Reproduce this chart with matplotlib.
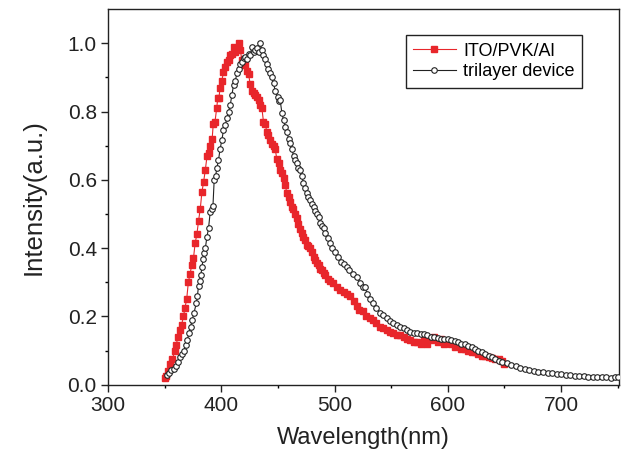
import matplotlib
matplotlib.use("Agg")
from matplotlib import pyplot as plt

plt.rcParams['font.family'] = ['Liberation Sans', 'DejaVu Sans']

# ITO/PVK/Al (red squares)
red_x = [350, 351, 353, 355, 357, 359, 360, 362, 364, 365, 366.7, 368, 369.5, 371, 372.5,
         374, 375.5, 377, 378.5, 380, 381.5, 383, 384.5, 386, 387.5, 389, 390.5, 392, 393,
         394.5, 396, 397, 398, 399, 400.5, 402, 403.5, 405, 406.5, 408, 409.5, 411, 412.5,
         414, 415.3, 416.8, 418.3, 419.7, 421.2, 422.6, 424.1, 425.6, 427.1, 428.6, 430,
         431.5, 433, 434.4, 435.9, 437.3, 438.8, 440.3, 441.7, 443.2, 444.7, 446.2, 447.7,
         449.1, 450.6, 452, 453.6, 455, 456.5, 458, 459.4, 460.9, 462.3, 463.8, 465.3, 466.8,
         468.2, 469.7, 471.2, 472.6, 474.1, 475.6, 477, 478.5, 480, 481.5, 483, 484.5, 486,
         487.4, 488.9, 490.3, 492, 494, 496, 499, 502, 505, 508, 511, 514, 517, 520, 522, 525,
         528, 531, 534, 537, 540, 543, 546, 549, 552, 555, 558, 561, 564, 567, 570, 573, 576,
         579, 582, 585, 588, 591, 594, 597, 600, 603, 606, 609, 612, 615, 618, 621, 624, 627,
         630, 633, 636, 639, 642, 645, 648, 650]
red_y = [0.02, 0.025, 0.04, 0.06, 0.075, 0.1, 0.115, 0.14, 0.16, 0.175, 0.2, 0.225, 0.25, 0.3,
         0.325, 0.35, 0.37, 0.415, 0.44, 0.48, 0.515, 0.565, 0.595, 0.63, 0.67, 0.68, 0.7, 0.72,
         0.765, 0.77, 0.81, 0.84, 0.84, 0.87, 0.89, 0.915, 0.93, 0.945, 0.95, 0.965, 0.97, 0.99,
         0.975, 0.985, 1.0, 0.98, 0.95, 0.955, 0.935, 0.92, 0.91, 0.88, 0.86, 0.855, 0.85,
         0.843, 0.835, 0.82, 0.81, 0.77, 0.765, 0.74, 0.73, 0.717, 0.705, 0.70, 0.69, 0.66,
         0.648, 0.63, 0.62, 0.605, 0.585, 0.56, 0.55, 0.535, 0.52, 0.515, 0.50, 0.487, 0.47,
         0.455, 0.445, 0.433, 0.425, 0.41, 0.405, 0.40, 0.39, 0.375, 0.365, 0.355, 0.35, 0.34,
         0.335, 0.326, 0.32, 0.31, 0.305, 0.297, 0.285, 0.278, 0.272, 0.266, 0.26, 0.245, 0.23,
         0.22, 0.215, 0.2, 0.195, 0.19, 0.18, 0.17, 0.165, 0.16, 0.155, 0.15, 0.145, 0.145,
         0.14, 0.135, 0.13, 0.125, 0.125, 0.12, 0.13, 0.12, 0.13, 0.14, 0.125, 0.135, 0.12,
         0.125, 0.12, 0.11, 0.115, 0.105, 0.105, 0.1, 0.095, 0.095, 0.09, 0.085, 0.085, 0.08,
         0.078, 0.075, 0.075, 0.07, 0.06]

# trilayer device (open circles)
blk_x = [352, 354, 356, 358, 360, 362, 364, 365.5, 367, 368.5, 370, 371.5, 373, 374.5, 376,
         378, 379, 380, 381, 382, 383, 384, 385, 386, 387.4, 388.8, 390.3, 391.5, 392.7, 393.8,
         395, 396.2, 397.6, 399, 400.6, 402, 403.5, 405, 406.5, 408, 409.4, 410.9, 412.4,
         413.9, 415.3, 416.8, 418.3, 419.7, 421.2, 422.6, 424.1, 425.6, 427.1, 428.6, 430,
         431.5, 433, 434.4, 435.9, 437.3, 438.8, 440.3, 441.7, 443.2, 444.7, 446.2, 447.7,
         449.7, 451, 452, 453.6, 455, 456.5, 458, 459.5, 460.9, 462.4, 463.9, 465.3, 466.8,
         468.2, 469.7, 471.2, 472.6, 474.1, 475.6, 477, 478.6, 480, 481.5, 483, 484.5, 486,
         487.4, 488.9, 490.3, 492, 494, 496.2, 498, 500, 503.5, 506, 508, 510.9, 513, 516,
         519.8, 522.7, 525, 527.1, 528.6, 531, 534.4, 537, 540, 543.2, 546, 549, 552, 555, 558,
         561, 564, 567, 570, 573, 576, 579, 582, 585, 588, 591, 594, 597, 600, 603, 606, 609,
         612, 615, 618, 621, 624, 627, 630, 633, 636, 639, 642, 645, 648, 652, 656, 660, 664,
         668, 672, 676, 680, 684, 688, 692, 696, 700, 704, 708, 712, 716, 720, 724, 728, 732,
         736, 740, 744, 748, 750]
blk_y = [0.028, 0.035, 0.042, 0.047, 0.055, 0.067, 0.08, 0.09, 0.10, 0.115, 0.13, 0.15, 0.17,
         0.19, 0.21, 0.238, 0.26, 0.29, 0.305, 0.32, 0.345, 0.367, 0.385, 0.40, 0.433, 0.458,
         0.506, 0.515, 0.523, 0.6, 0.61, 0.635, 0.658, 0.69, 0.717, 0.746, 0.76, 0.78, 0.80,
         0.82, 0.848, 0.878, 0.89, 0.912, 0.925, 0.94, 0.945, 0.956, 0.96, 0.955, 0.97, 0.965,
         0.99, 0.975, 0.98, 0.985, 0.975, 1.0, 0.98, 0.966, 0.955, 0.94, 0.925, 0.912, 0.90,
         0.883, 0.86, 0.843, 0.83, 0.834, 0.795, 0.775, 0.756, 0.74, 0.72, 0.707, 0.69, 0.67,
         0.658, 0.648, 0.635, 0.629, 0.61, 0.59, 0.575, 0.56, 0.55, 0.54, 0.53, 0.52, 0.51,
         0.50, 0.49, 0.475, 0.465, 0.458, 0.445, 0.43, 0.414, 0.40, 0.39, 0.375, 0.36, 0.352,
         0.345, 0.335, 0.325, 0.316, 0.297, 0.285, 0.287, 0.267, 0.25, 0.238, 0.225, 0.21,
         0.204, 0.195, 0.185, 0.18, 0.175, 0.168, 0.165, 0.16, 0.155, 0.152, 0.15, 0.148,
         0.148, 0.145, 0.14, 0.14, 0.138, 0.135, 0.135, 0.133, 0.13, 0.128, 0.125, 0.12,
         0.118, 0.113, 0.11, 0.105, 0.1, 0.095, 0.09, 0.085, 0.08, 0.075, 0.07, 0.066, 0.062,
         0.058, 0.055, 0.05, 0.047, 0.043, 0.04, 0.038, 0.036, 0.034, 0.033, 0.031, 0.03,
         0.028, 0.027, 0.025, 0.024, 0.024, 0.022, 0.022, 0.021, 0.022, 0.021, 0.02, 0.021,
         0.022]

x_ticks = [300, 400, 500, 600, 700]
y_ticks = [0.0, 0.2, 0.4, 0.6, 0.8, 1.0]


def draw():
    fig = plt.figure(figsize=(6.22, 4.59), dpi=100)
    ax = fig.add_axes([0.1735, 0.162, 0.8215, 0.818])
    ax.plot(red_x, red_y, color='#e8262b', lw=0.8, marker='s', ms=4.6,
            mec='#e8262b', mfc='#e8262b', label='ITO/PVK/Al', zorder=2)
    ax.plot(blk_x, blk_y, color='#222222', lw=0.8, marker='o', ms=4.0,
            mec='#222222', mfc='white', mew=0.8, label='trilayer device', zorder=3)
    ax.set_xlim(300, 751)
    ax.set_ylim(0, 1.1)
    ax.set_xticks(x_ticks)
    ax.set_xticks([350, 450, 550, 650, 750], minor=True)
    ax.set_yticks(y_ticks)
    ax.set_yticklabels(['%.1f' % v for v in y_ticks])
    ax.set_yticks([0.1, 0.3, 0.5, 0.7, 0.9], minor=True)
    ax.tick_params(which='major', direction='out', length=5, width=1, labelsize=15,
                   colors='#222222', pad=3)
    ax.tick_params(which='minor', direction='out', length=2.5, width=1)
    for s in ax.spines.values():
        s.set_linewidth(1)
        s.set_color('#222222')
    ax.set_xlabel('Wavelength(nm)', fontsize=17, color='#222222', labelpad=9)
    ax.set_ylabel('Intensity(a.u.)', fontsize=18.5, color='#222222', labelpad=16)
    leg = ax.legend(loc='upper right', bbox_to_anchor=(0.928, 0.93), fontsize=13,
                    numpoints=1, handlelength=2.4, fancybox=False, framealpha=1,
                    edgecolor='#222222', borderpad=0.4, labelspacing=0.2,
                    handletextpad=0.4, borderaxespad=0)
    leg.get_frame().set_linewidth(1)
    fig.savefig('out.png', dpi=100)


if __name__ == '__main__':
    draw()
